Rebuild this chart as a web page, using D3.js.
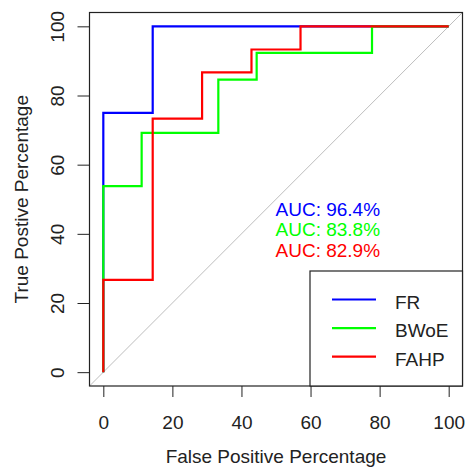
<!DOCTYPE html>
<meta charset="utf-8">
<body style="margin:0;background:#fff">
    <div id="roc"></div>
</body>
<script src="https://cdn.jsdelivr.net/npm/d3@7/dist/d3.min.js"></script>
<style>
    text { font-family: "Liberation Sans", Arial, sans-serif; font-size: 19px; fill: #222; }
</style>
<script>
    // ROC steps, in percent (x = false positive, y = true positive)
    var frFpr   = [0, 0, 14.3, 14.3, 100];
    var frTpr   = [0, 75, 75, 100, 100];
    var bwoeFpr = [0, 0, 11.1, 11.1, 33.3, 33.3, 44.4, 44.4, 77.8, 77.8, 100];
    var bwoeTpr = [0, 53.8, 53.8, 69.2, 69.2, 84.6, 84.6, 92.3, 92.3, 100, 100];
    var fahpFpr = [0, 0, 14.3, 14.3, 28.6, 28.6, 42.9, 42.9, 57.1, 57.1, 100];
    var fahpTpr = [0, 26.7, 26.7, 73.3, 73.3, 86.7, 86.7, 93.3, 93.3, 100, 100];

    var models = ["FR", "BWoE", "FAHP"];
    var colors = ["#0000ff", "#00ff00", "#ff0000"];
    var aucLabels = ["AUC: 96.4%", "AUC: 83.8%", "AUC: 82.9%"];
    var ticks = [0, 20, 40, 60, 80, 100];

    var width = 465, height = 468;
    var plotLeft = 89.5, plotRight = 462.5, plotTop = 12.5, plotBottom = 386;

    var svg = d3.select("#roc").append("svg")
        .attr("width", width)
        .attr("height", height);

    var x = d3.scaleLinear().domain([-4, 104]).range([plotLeft, plotRight]);
    var y = d3.scaleLinear().domain([-4, 104]).range([plotBottom, plotTop]);

    // diagonal reference line, corner to corner
    svg.append("line")
        .attr("x1", x(-4)).attr("y1", y(-4))
        .attr("x2", x(104)).attr("y2", y(104))
        .attr("stroke", "#bebebe").attr("stroke-width", 1);

    var series = [
        {fpr: frFpr, tpr: frTpr},
        {fpr: bwoeFpr, tpr: bwoeTpr},
        {fpr: fahpFpr, tpr: fahpTpr}
    ];

    var line = d3.line()
        .x(function(d) { return x(d[0]); })
        .y(function(d) { return y(d[1]); });

    series.forEach(function(s, i) {
        svg.append("path")
            .datum(s.fpr.map(function(v, j) { return [v, s.tpr[j]]; }))
            .attr("d", line)
            .attr("fill", "none")
            .attr("stroke", colors[i])
            .attr("stroke-width", 2.2);
    });

    // axes
    var xAxis = svg.append("g")
        .attr("transform", "translate(0," + plotBottom + ")")
        .call(d3.axisBottom(x).tickValues(ticks).tickSize(11).tickPadding(0));
    xAxis.select(".domain").remove();
    xAxis.selectAll("line").attr("stroke", "#222");
    xAxis.selectAll("text")
        .attr("y", 43).attr("dy", null)
        .style("font-size", "19px").style("font-family", "Liberation Sans, Arial, sans-serif")
        .attr("fill", "#222");

    var yAxis = svg.append("g")
        .attr("transform", "translate(" + plotLeft + ",0)")
        .call(d3.axisLeft(y).tickValues(ticks).tickSize(12).tickPadding(0));
    yAxis.select(".domain").remove();
    yAxis.selectAll("line").attr("stroke", "#222");
    yAxis.selectAll("text")
        .attr("x", null).attr("dy", null)
        .attr("text-anchor", "middle")
        .attr("transform", "translate(-26,0) rotate(-90)")
        .style("font-size", "19px").style("font-family", "Liberation Sans, Arial, sans-serif")
        .attr("fill", "#222");

    // plot box
    svg.append("rect")
        .attr("x", plotLeft).attr("y", plotTop)
        .attr("width", plotRight - plotLeft).attr("height", plotBottom - plotTop)
        .attr("fill", "none").attr("stroke", "#222").attr("stroke-width", 1.2);

    // titles
    svg.append("text")
        .attr("x", (plotLeft + plotRight) / 2).attr("y", 462.5)
        .attr("text-anchor", "middle")
        .text("False Positive Percentage");

    svg.append("text")
        .attr("transform", "translate(28," + ((plotTop + plotBottom) / 2) + ") rotate(-90)")
        .attr("text-anchor", "middle")
        .text("True Postive Percentage");

    // AUC labels
    aucLabels.forEach(function(t, i) {
        svg.append("text")
            .attr("x", x(65)).attr("y", 216 + i * 20.3)
            .attr("text-anchor", "middle")
            .style("fill", colors[i])
            .text(t);
    });

    // legend
    var legend = svg.append("g");
    legend.append("rect")
        .attr("x", 310).attr("y", 271)
        .attr("width", plotRight - 310).attr("height", plotBottom - 271)
        .attr("fill", "#fff").attr("stroke", "#222").attr("stroke-width", 1.2);

    models.forEach(function(m, i) {
        var ly = 299.5 + i * 28.6;
        legend.append("line")
            .attr("x1", 332).attr("x2", 376)
            .attr("y1", ly).attr("y2", ly)
            .attr("stroke", colors[i]).attr("stroke-width", 2.2);
        legend.append("text")
            .attr("x", 395).attr("y", ly + 9)
            .text(m);
    });
</script>
